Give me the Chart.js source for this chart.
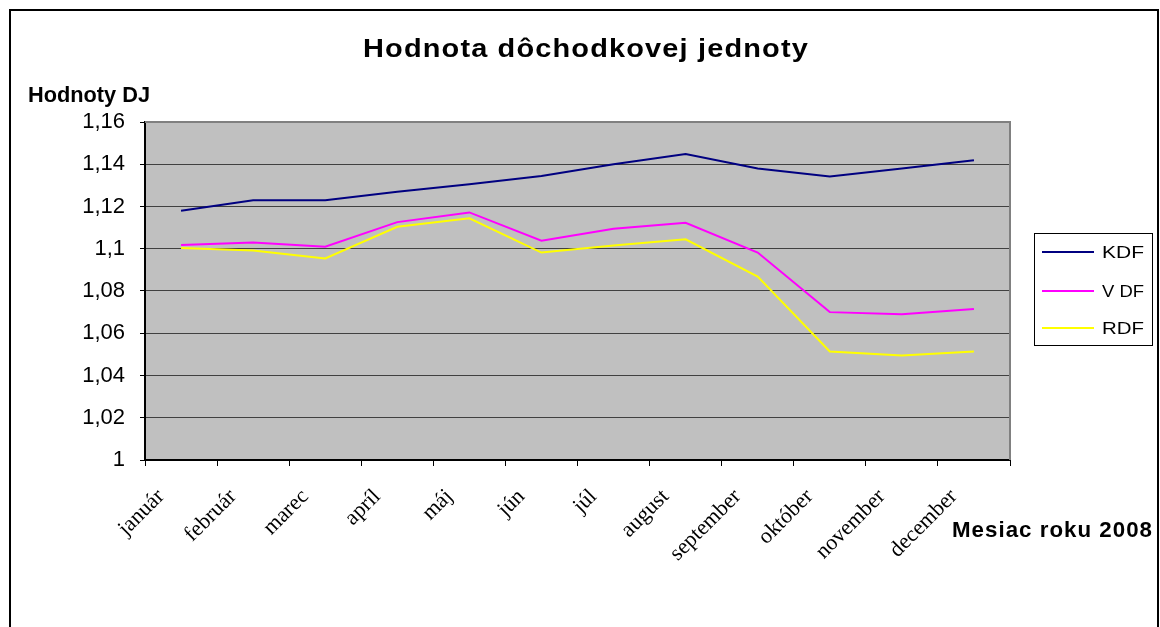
<!DOCTYPE html>
<html>
<head>
<meta charset="utf-8">
<script src="https://cdn.jsdelivr.net/npm/chart.js@4"></script>
<style>
  html, body { margin: 0; padding: 0; background: #fff; }
  #wrap { width: 1160px; height: 627px; }
</style>
</head>
<body>
<div id="wrap"><canvas id="chart" width="1160" height="627"></canvas></div>
<script>
const months = ["január", "február", "marec", "apríl", "máj", "jún", "júl", "august", "september", "október", "november", "december"];
const kdf = [1.118, 1.123, 1.123, 1.127, 1.1305, 1.1344, 1.140, 1.1448, 1.138, 1.1342, 1.138, 1.1419];
const vdf = [1.1018, 1.103, 1.101, 1.1126, 1.1172, 1.1038, 1.1095, 1.1123, 1.0982, 1.070, 1.069, 1.0715];
const rdf = [1.1003, 1.0992, 1.0954, 1.1104, 1.1144, 1.0982, 1.1015, 1.1045, 1.0868, 1.0514, 1.0495, 1.0514];
const seriesNames = ["KDF", "VDF", "RDF"];
const seriesColors = ["#000080", "#ff00ff", "#ffff00"];

// draws text starting at x on baseline y, stretched to the given width
function fitText(ctx, text, x, y, font, width, spacing) {
  ctx.save();
  ctx.font = font;
  ctx.letterSpacing = spacing + "px";
  ctx.textAlign = "left";
  ctx.textBaseline = "alphabetic";
  const w = ctx.measureText(text).width;
  ctx.translate(x, y);
  ctx.scale(width / w, 1);
  ctx.fillText(text, 0, 0);
  ctx.restore();
}

const decor = {
  id: "decor",
  beforeDraw(chart) {
    const { ctx, chartArea: a } = chart;
    ctx.save();
    ctx.fillStyle = "#fff";
    ctx.fillRect(0, 0, chart.width, chart.height);
    ctx.fillStyle = "#c0c0c0";
    ctx.fillRect(a.left, a.top, a.right - a.left, a.bottom - a.top);
    ctx.restore();
  },
  afterDraw(chart) {
    const { ctx, chartArea: a } = chart;
    ctx.save();
    // plot frame (top + right in gray)
    ctx.strokeStyle = "#808080";
    ctx.lineWidth = 2;
    ctx.beginPath();
    ctx.moveTo(a.left, a.top);
    ctx.lineTo(a.right, a.top);
    ctx.lineTo(a.right, a.bottom);
    ctx.stroke();

    // outer border
    ctx.strokeStyle = "#000";
    ctx.lineWidth = 2;
    ctx.strokeRect(10, 10, 1148, 640);

    ctx.fillStyle = "#000";
    const bold = "bold 22px 'Liberation Sans', Arial, sans-serif";
    fitText(ctx, "Hodnota dôchodkovej jednoty", 363, 57, "bold 25px 'Liberation Sans', Arial, sans-serif", 446, 1);
    fitText(ctx, "Hodnoty DJ", 28, 102, bold, 122, 0);
    fitText(ctx, "Mesiac roku 2008", 952, 537, bold, 201, 1);

    // legend
    ctx.strokeStyle = "#000";
    ctx.lineWidth = 1;
    ctx.strokeRect(1034.5, 233.5, 118, 112);
    const legendText = ["KDF", "V DF", "RDF"];
    seriesNames.forEach((n, i) => {
      const y = [252, 291, 328][i];
      ctx.strokeStyle = seriesColors[i];
      ctx.lineWidth = 2;
      ctx.beginPath();
      ctx.moveTo(1042, y);
      ctx.lineTo(1094, y);
      ctx.stroke();
      fitText(ctx, legendText[i], 1102, y + 6, "17px 'Liberation Sans', Arial, sans-serif", 42, 0);
    });
    ctx.restore();
  }
};

const ctx = document.getElementById("chart").getContext("2d");

new Chart(ctx, {
  type: "line",
  data: {
    labels: months,
    datasets: [kdf, vdf, rdf].map((d, i) => ({
      label: seriesNames[i],
      data: d,
      borderColor: seriesColors[i],
      borderWidth: 2,
      pointRadius: 0,
      tension: 0,
      fill: false
    }))
  },
  options: {
    responsive: false,
    animation: false,
    layout: { padding: { left: 0, top: 122, right: 150, bottom: 0 } },
    plugins: {
      legend: { display: false },
      tooltip: { enabled: false }
    },
    scales: {
      x: {
        offset: true,
        afterFit(scale) { scale.height = 167; },
        grid: {
          offset: true,
          drawOnChartArea: false,
          drawTicks: true,
          tickLength: 6,
          color: "#000"
        },
        border: { color: "#000", width: 2 },
        ticks: {
          maxRotation: 45,
          minRotation: 45,
          autoSkip: false,
          padding: 18,
          labelOffset: -20,
          color: "#000",
          font: { family: "'Liberation Serif', 'Times New Roman', serif", size: 22 }
        }
      },
      y: {
        min: 1,
        max: 1.16,
        afterFit(scale) { scale.width = 145; },
        grid: {
          color: "#404040",
          lineWidth: 1,
          tickLength: 5,
          tickColor: "#000"
        },
        border: { color: "#000", width: 2 },
        ticks: {
          stepSize: 0.02,
          padding: 15,
          color: "#000",
          font: { family: "'Liberation Sans', Arial, sans-serif", size: 22 },
          callback: v => Number(v.toFixed(2)).toString().replace(".", ",")
        }
      }
    }
  },
  plugins: [decor]
});
</script>
</body>
</html>
